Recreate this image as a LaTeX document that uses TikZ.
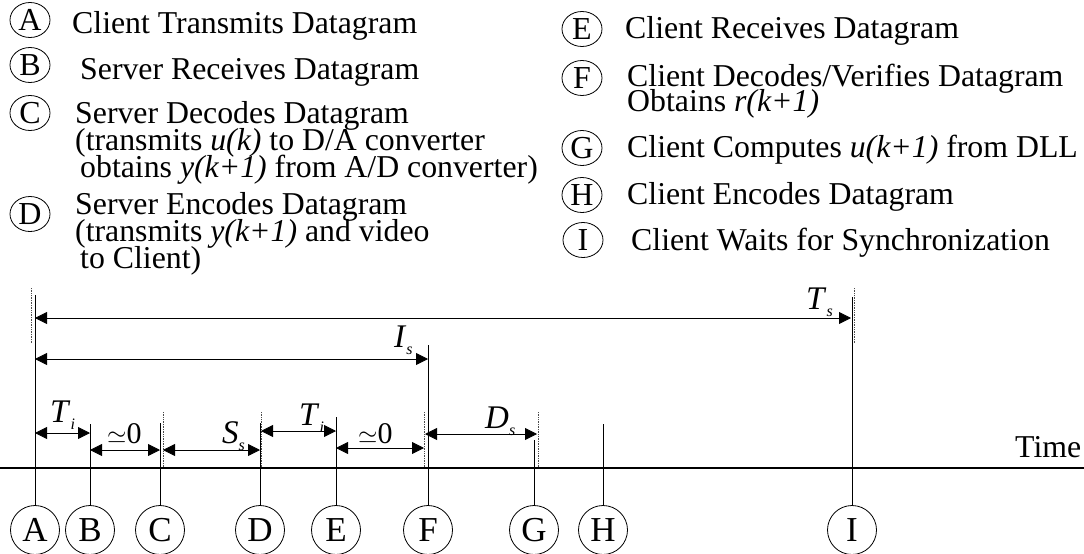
\documentclass[tikz,border=0pt]{standalone}
\usepackage{fontspec}
\setmainfont{Liberation Serif}
\usetikzlibrary{arrows.meta,shapes.geometric}
\newcommand{\subit}[2]{\textit{#1}\raisebox{-7pt}{\fontsize{16}{16}\selectfont\textit{#2}}}
\begin{document}
\begin{tikzpicture}[x=1pt,y=-1pt,
  txt/.style={anchor=base west,inner sep=0pt,font=\fontsize{31.8}{28}\selectfont},
  key/.style={draw,ellipse,minimum width=40pt,minimum height=35pt,inner sep=0pt,line width=0.8pt,font=\fontsize{32}{32}\selectfont},
  evt/.style={draw,circle,minimum size=49pt,inner sep=0pt,line width=0.8pt,font=\fontsize{35}{35}\selectfont},
  tick/.style={line width=0.9pt},
  ghost/.style={densely dotted,line width=0.7pt,black!70},
  dimline/.style={{Triangle[length=12pt,width=12pt]}-{Triangle[length=12pt,width=12pt]},line width=0.8pt},
  lbl/.style={anchor=base west,inner sep=0pt,font=\fontsize{33}{33}\selectfont}
]
\useasboundingbox (0,0) rectangle (1084,554);

% ---- legend, left column
\node[key] (kA) at (30,20) {A};
\node[txt] (tA) at (72,33) {Client Transmits Datagram};
\node[key] (kB) at (30,65) {B};
\node[txt] (tB) at (80,79) {Server Receives Datagram};
\node[key] (kC) at (30,113) {C};
\node[txt] (tC1) at (75,123) {Server Decodes Datagram};
\node[txt] (tC2) at (75,150) {(transmits \textit{u(k)} to D/A converter};
\node[txt] (tC3) at (80,177) {obtains \textit{y(k+1)} from A/D converter)};
\node[key] (kD) at (30,214) {D};
\node[txt] (tD1) at (75,214) {Server Encodes Datagram};
\node[txt] (tD2) at (75,241) {(transmits \textit{y(k+1)} and video};
\node[txt] (tD3) at (80,268) {to Client)};

% ---- legend, right column
\node[key] (kE) at (582,29) {E};
\node[txt] (tE) at (625,38) {Client Receives Datagram};
\node[key] (kF) at (582,78) {F};
\node[txt] (tF1) at (627,86) {Client Decodes/Verifies Datagram};
\node[txt] (tF2) at (627,111) {Obtains \textit{r(k+1)}};
\node[key] (kG) at (582,148) {G};
\node[txt] (tG) at (627,157) {Client Computes \textit{u(k+1)} from DLL};
\node[key] (kH) at (582,195) {H};
\node[txt] (tH) at (627,204) {Client Encodes Datagram};
\node[key] (kI) at (583,240) {I};
\node[txt] (tI) at (631,250) {Client Waits for Synchronization};

% ---- time axis
\coordinate (t0) at (0,468);
\coordinate (t1) at (1084,468);
\draw[line width=1.2pt] (t0) -- (t1);
\node[lbl,font=\fontsize{31.8}{31.8}\selectfont] (time) at (1015,457) {Time};

% ---- event circles
\foreach \n/\x in {A/35,B/90,C/160,D/260,E/336,F/428,G/534,H/603,I/852}
  \node[evt] (e\n) at (\x,530) {\n};

% ---- event marker tops
\coordinate (mA) at (35,295);
\coordinate (mB) at (90,424);
\coordinate (mC) at (160,423);
\coordinate (mD) at (260,423);
\coordinate (mE) at (336,417);
\coordinate (mF) at (428,345);
\coordinate (mG) at (534,440);
\coordinate (mH) at (603,424);
\coordinate (mI) at (852,297);
\foreach \n in {A,B,C,D,E,F,G,H,I}
  \draw[tick] (e\n.north) -- (m\n);

% ---- faint doubled marks
\draw[ghost] (31,288) -- (31,343);
\draw[ghost] (854,288) -- (854,343);
\draw[ghost] (163,412) -- (163,468);
\draw[ghost] (261,412) -- (261,468);
\draw[ghost] (424,412) -- (424,468);
\draw[ghost] (538,412) -- (538,468);

% ---- dimension arrows
\coordinate (sA) at (35,318);  \coordinate (sI) at (851,318);
\coordinate (iA) at (35,359);  \coordinate (iF) at (428,359);
\coordinate (a1) at (35,433);  \coordinate (b1) at (90,433);
\coordinate (b2) at (90,450);  \coordinate (c2) at (160,450);
\coordinate (c3) at (163,450); \coordinate (d3) at (260,450);
\coordinate (d4) at (261,431); \coordinate (e4) at (336,431);
\coordinate (e5) at (336,448); \coordinate (f5) at (424,448);
\coordinate (f6) at (425,434); \coordinate (g6) at (537,434);
\draw[dimline] (sA) -- (sI);
\draw[dimline] (iA) -- (iF);
\draw[dimline] (a1) -- (b1);
\draw[dimline] (b2) -- (c2);
\draw[dimline] (c3) -- (d3);
\draw[dimline] (d4) -- (e4);
\draw[dimline] (e5) -- (f5);
\draw[dimline] (f6) -- (g6);

% ---- interval labels
\node[lbl] (lTs) at (806,309) {\subit{T}{s}};
\node[lbl] (lIs) at (394,347) {\subit{I}{s}};
\node[lbl] (lTi1) at (50,422) {\subit{T}{i}};
\node[lbl,font=\fontsize{30}{30}\selectfont] (lz1) at (107,443) {$\simeq$0};
\node[lbl] (lSs) at (222,443) {\subit{S}{s}};
\node[lbl] (lTi2) at (299,425) {\subit{T}{i}};
\node[lbl,font=\fontsize{30}{30}\selectfont] (lz2) at (358,443) {$\simeq$0};
\node[lbl] (lDs) at (485,428) {\subit{D}{s}};
\end{tikzpicture}
\end{document}
